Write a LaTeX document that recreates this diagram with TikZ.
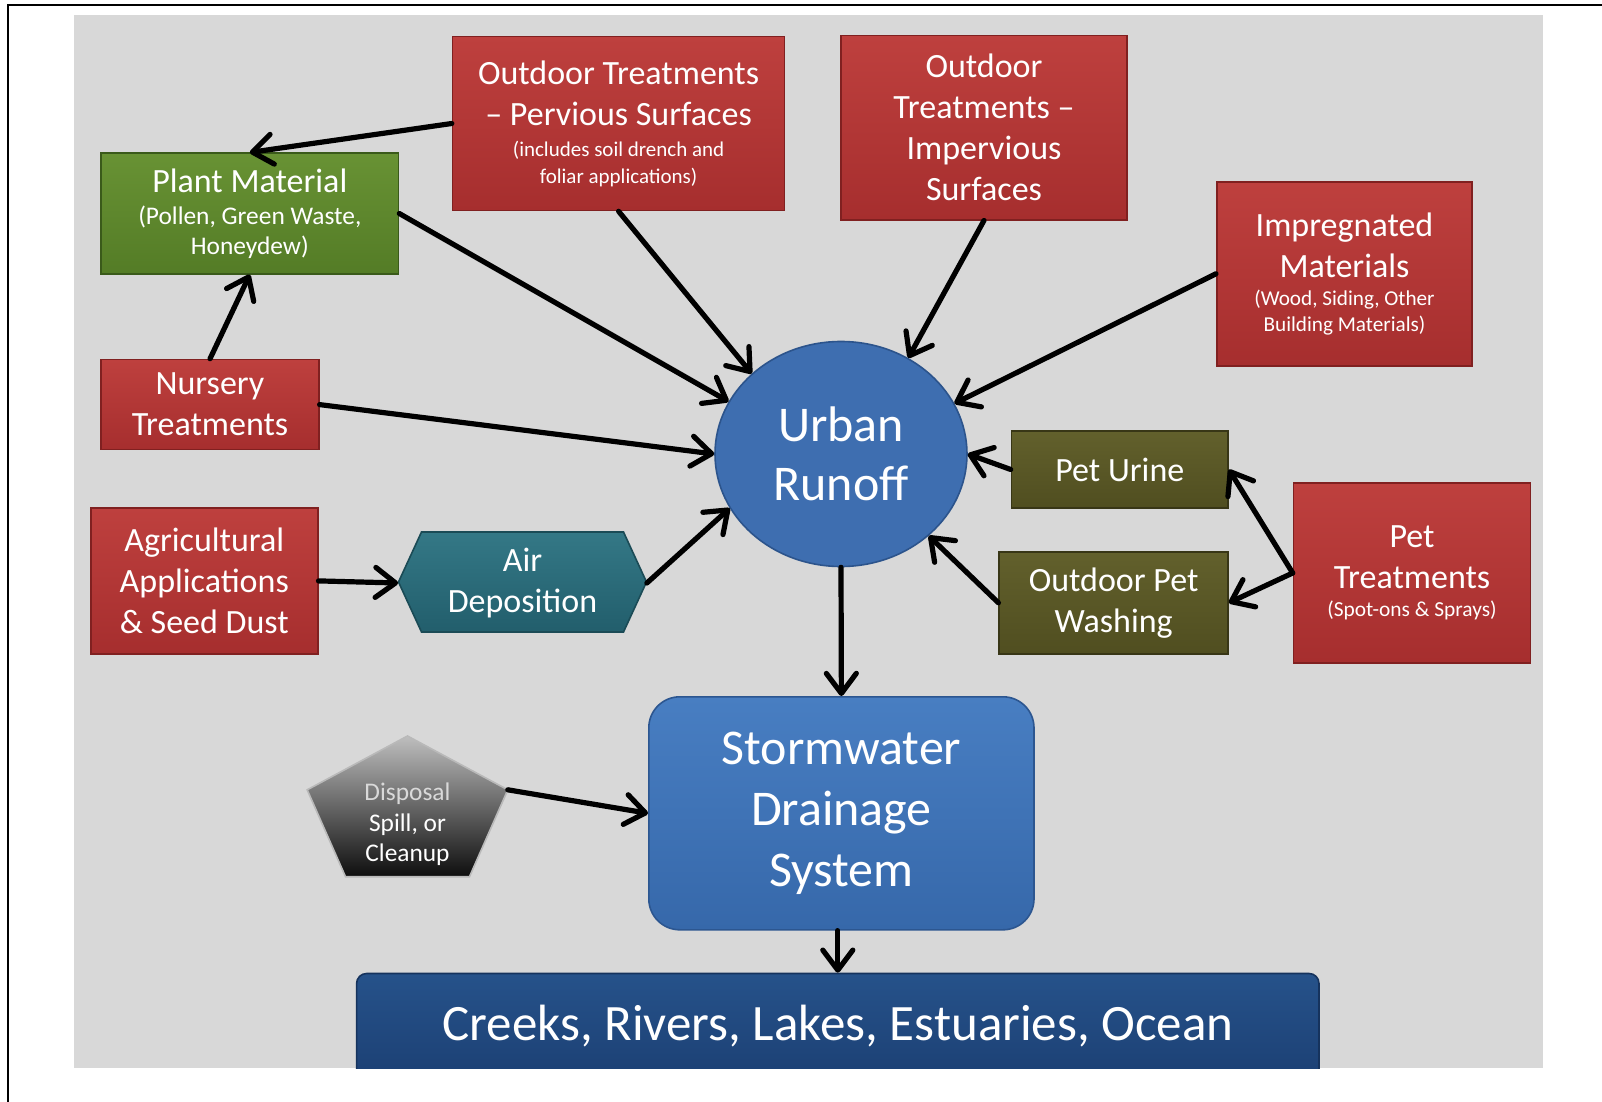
\documentclass[tikz,border=0pt]{standalone}
\usepackage{fontspec}
\setmainfont{Carlito}
\usetikzlibrary{arrows.meta,shapes.geometric}
\definecolor{panel}{RGB}{216,216,216}
\definecolor{redA}{RGB}{190,64,62}
\definecolor{redB}{RGB}{166,46,46}
\definecolor{redE}{RGB}{128,32,32}
\definecolor{grnA}{RGB}{104,146,52}
\definecolor{grnB}{RGB}{84,124,38}
\definecolor{grnE}{RGB}{58,90,26}
\definecolor{olvA}{RGB}{98,96,44}
\definecolor{olvB}{RGB}{80,78,32}
\definecolor{olvE}{RGB}{56,54,22}
\definecolor{tealA}{RGB}{52,120,134}
\definecolor{tealB}{RGB}{34,94,108}
\definecolor{urbanB}{RGB}{62,110,176}
\definecolor{urbanE}{RGB}{44,84,140}
\definecolor{stormA}{RGB}{72,126,194}
\definecolor{stormB}{RGB}{54,104,170}
\definecolor{stormE}{RGB}{44,86,144}
\definecolor{creekA}{RGB}{38,82,138}
\definecolor{creekB}{RGB}{28,64,116}
\definecolor{dispA}{RGB}{190,190,190}
\definecolor{dispB}{RGB}{14,14,14}
\begin{document}
\begin{tikzpicture}[x=0.5pt,y=-0.5pt,
  txt/.style={rectangle, inner sep=0pt, text=white, align=flush center,
    font=\fontsize{17}{20.5}\selectfont},
  base/.style={txt, line width=0.8pt},
  redbox/.style={base, draw=redE, top color=redA, bottom color=redB},
  grnbox/.style={base, draw=grnE, top color=grnA, bottom color=grnB},
  olvbox/.style={base, draw=olvE, top color=olvA, bottom color=olvB},
  arr/.style={line width=2.6pt, line cap=round, line join=round,
    -{Straight Barb[length=10pt,width=15pt,round]}}
]
\useasboundingbox (0,0) rectangle (1602,1102);
\fill[white] (0,0) rectangle (1602,1102);
\draw[line width=1.2pt] (8,1102) -- (8,5) -- (1602,5);
\fill[panel] (73.6,15.5) rectangle (1543,1068);

% top row
\node[redbox, minimum width=166pt, minimum height=87pt, text width=160pt] (perv) at (618.6,123.5)
  {Outdoor Treatments\\– Pervious Surfaces\par\vspace{2.5pt}%
   {\fontsize{10.5}{13.3}\selectfont (includes soil drench and\\foliar applications)\par}};
\node[redbox, minimum width=143pt, minimum height=92pt] (imperv) at (984,127.7)
  {Outdoor\\Treatments –\\Impervious\\Surfaces};
\node[grnbox, minimum width=148.7pt, minimum height=60.25pt, text width=144pt] (plant) at (249.8,213.5)
  {Plant Material\par\vspace{1.6pt}%
   {\fontsize{12.7}{14.8}\selectfont (Pollen, Green Waste,\\Honeydew)\par}};
\node[redbox, minimum width=127.75pt, minimum height=92pt, text width=124pt] (impreg) at (1344.5,273.8)
  {Impregnated\\Materials\par\vspace{1.6pt}%
   {\fontsize{10.6}{12.75}\selectfont (Wood, Siding, Other\\Building Materials)\par}};
\node[redbox, minimum width=108.8pt, minimum height=45pt] (nurs) at (210,404.6)
  {Nursery\\Treatments};

% centre
\node[ellipse, draw=urbanE, fill=urbanB, line width=0.8pt, minimum width=126pt,
  minimum height=112.5pt, inner sep=0pt, text=white, align=center,
  font=\fontsize{25}{29.5}\selectfont] (urban) at (841,454) {Urban\\Runoff};

\node[olvbox, minimum width=108.25pt, minimum height=38.3pt] (urine) at (1119.8,469.5) {Pet Urine};
\node[olvbox, minimum width=114.4pt, minimum height=51pt] (wash) at (1113.6,602.8) {Outdoor Pet\\Washing};
\node[redbox, minimum width=118.5pt, minimum height=90pt, text width=115pt] (pett) at (1412,573)
  {Pet\\Treatments\par\vspace{1.3pt}%
   {\fontsize{10.7}{13}\selectfont (Spot-ons \& Sprays)\par}};

\node[redbox, minimum width=113.4pt, minimum height=73pt] (agri) at (204.3,580.9)
  {Agricultural\\Applications\\\& Seed Dust};

% air deposition hexagon
\shade[top color=tealA, bottom color=tealB, draw=tealB!80!black, line width=0.8pt]
  (398.5,582) -- (421.5,532) -- (623.5,532) -- (646.5,582) -- (623.5,632) -- (421.5,632) -- cycle;
\node[txt, minimum width=124pt, minimum height=50pt] (air) at (522.5,583) {Air\\Deposition};

% stormwater
\node[base, draw=stormE, top color=stormA, bottom color=stormB, rounded corners=15.5pt,
  minimum width=192.6pt, minimum height=116.5pt,
  font=\fontsize{25}{30.5}\selectfont] (storm) at (841.4,813.3) {Stormwater\\Drainage\\System};

% disposal pentagon
\shade[top color=dispA, bottom color=dispB, draw=gray!55, line width=0.8pt]
  (407.5,736) -- (507.8,789.8) -- (469.5,876.7) -- (345.5,876.7) -- (307.2,789.8) -- cycle;
\coordinate (dispR) at (507.8,789.8);
\node[txt, font=\fontsize{12.7}{15.3}\selectfont] (disp) at (407.5,824.5)
  {\textcolor{white!85!black}{Disposal}\\Spill, or\\Cleanup};

% creeks
\begin{scope}
\clip (73.6,15.5) rectangle (1543,1068);
\node[base, draw=creekB!80!black, top color=creekA, bottom color=creekB, rounded corners=5pt,
  minimum width=481.2pt, minimum height=53pt,
  font=\fontsize{25.5}{30}\selectfont] (creek) at (837.8,1026.5)
  {Creeks, Rivers, Lakes, Estuaries, Ocean};
\end{scope}

% connectors
\draw[arr] (perv.west) -- (plant.north);
\draw[arr] (perv.south) -- (urban.138);
\draw[arr] (plant.east) -- (urban.155);
\draw[arr] (nurs.north) -- (plant.south);
\draw[arr] (nurs.east) -- (urban.west);
\draw[arr] (imperv.south) -- (urban.55);
\draw[arr] (impreg.west) -- (urban.24);
\draw[arr] (urine.west) -- (urban.east);
\draw[arr] (agri.east) -- (air.west);
\draw[arr] (air.east) -- (urban.206);
\draw[arr] (wash.west) -- (urban.317);
\draw[arr] (pett.west) -- (urine.east);
\draw[arr] (pett.west) -- (wash.east);
\draw[arr] (urban.south) -- (storm.north);
\draw[arr] (dispR) -- (storm.west);
\draw[arr] (storm.south -| creek.north) -- (creek.north);
\end{tikzpicture}
\end{document}
